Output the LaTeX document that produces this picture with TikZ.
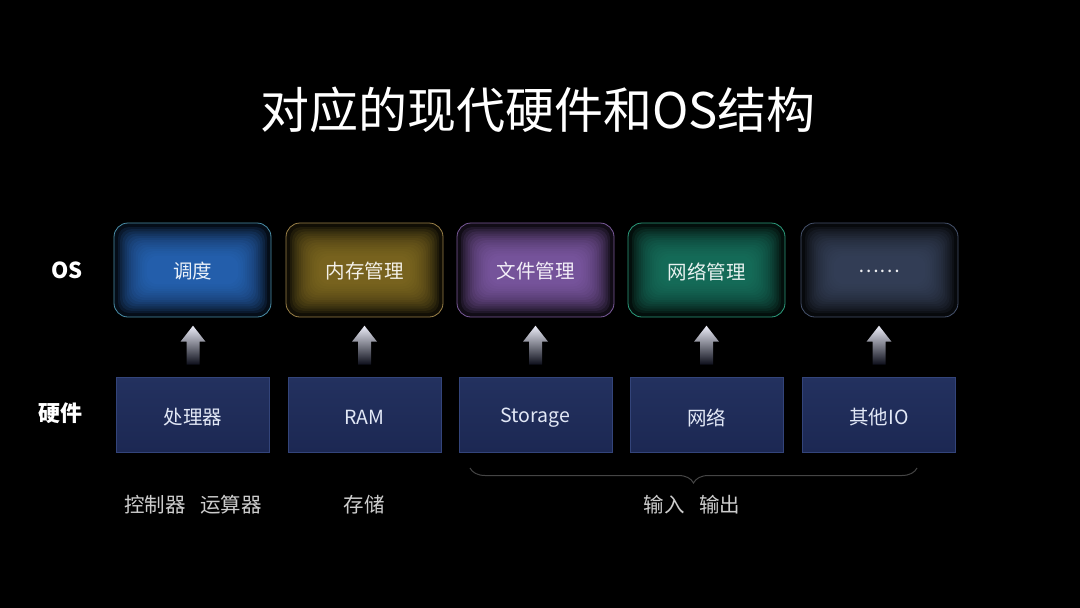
\documentclass[tikz,border=0pt]{standalone}
\usepackage{fontspec}
\setmainfont{Noto Sans CJK SC}
\usetikzlibrary{calc,decorations.pathreplacing}
\definecolor{gBlue}{HTML}{2C6FC8}
\definecolor{bBlue}{HTML}{4A8FA8}
\definecolor{gGold}{HTML}{8C7426}
\definecolor{bGold}{HTML}{9A8048}
\definecolor{gPurple}{HTML}{8A62B4}
\definecolor{bPurple}{HTML}{7A5A9A}
\definecolor{gGreen}{HTML}{1B7D68}
\definecolor{bGreen}{HTML}{2C9C7C}
\definecolor{gSlate}{HTML}{3E4A66}
\definecolor{bSlate}{HTML}{46526C}
\definecolor{hwTop}{HTML}{23315F}
\definecolor{hwBot}{HTML}{1C2853}
\definecolor{hwLine}{HTML}{33447A}
\definecolor{hwText}{HTML}{E2E8F6}
\definecolor{arrTop}{HTML}{ECEDF8}
\definecolor{arrMid}{HTML}{A9ADCA}
\definecolor{arrBot}{HTML}{0C0E1A}
\definecolor{noteGray}{HTML}{CDCDCD}
\definecolor{braceGray}{HTML}{454545}
\newcommand{\lowtext}[2]{\raisebox{-#1}[\height][\depth]{#2}}
\begin{document}
\begin{tikzpicture}[x=1pt,y=-1pt,
  osbox/.style 2 args={rounded corners=14pt, minimum width=157pt, minimum height=94pt,
    inner sep=0pt, draw=#2, line width=0.8pt, fill=#1!12!black,
    text=white!90!#1, font=\fontsize{19.5}{20}\selectfont,
    path picture={
      \foreach \i in {0,...,13}{
        \fill[#1, opacity=0.13, rounded corners=11pt]
          ($(path picture bounding box.north west)+({4pt+2.2pt*\i},{-4pt-2.2pt*\i})$)
          rectangle
          ($(path picture bounding box.south east)+({-4pt-2.2pt*\i},{4pt+2.2pt*\i})$);
      }
    }},
  hwbox/.style={minimum width=153pt, minimum height=75pt, inner sep=0pt,
    draw=hwLine, line width=0.6pt, top color=hwTop, bottom color=hwBot,
    text=hwText, font=\fontsize{19.5}{20}\selectfont},
  uparrow/.style={top color=arrTop, middle color=arrMid, bottom color=arrBot, draw=none},
  sidelabel/.style={text=white, font=\bfseries\fontsize{22}{22}\selectfont},
  note/.style={text=noteGray, font=\fontsize{20.5}{21}\selectfont},
  bracestyle/.style={draw=braceGray, line width=1pt,
    decorate, decoration={brace, mirror, amplitude=15pt}}
]
\fill[black] (0,0) rectangle (1080,608);
\useasboundingbox (0,0) rectangle (1080,608);

% title
\node[text=white, font=\fontsize{49}{49}\selectfont] (title) at (538,110) {对应的现代硬件和OS结构};

% side labels
\node[sidelabel] (oslbl) at (67,270) {OS};
\node[sidelabel] (hwlbl) at (60,413) {硬件};

% OS boxes
\node[osbox={gBlue}{bBlue}]     (os1) at (192.5,270) {\lowtext{1.5pt}{调度}};
\node[osbox={gGold}{bGold}]     (os2) at (364.5,270) {\lowtext{1.5pt}{内存管理}};
\node[osbox={gPurple}{bPurple}] (os3) at (535.5,270) {\lowtext{1.5pt}{文件管理}};
\node[osbox={gGreen}{bGreen}]   (os4) at (706.5,270) {\lowtext{1.5pt}{网络管理}};
\node[osbox={gSlate}{bSlate}]   (os5) at (879.5,270) {\lowtext{1.5pt}{……}};

% hardware boxes
\node[hwbox] (hw1) at (193,414.5) {\lowtext{3pt}{处理器}};
\node[hwbox] (hw2) at (364.5,414.5) {\lowtext{3pt}{RAM}};
\node[hwbox] (hw3) at (535.5,414.5) {\lowtext{3pt}{Storage}};
\node[hwbox] (hw4) at (706.5,414.5) {\lowtext{3pt}{网络}};
\node[hwbox] (hw5) at (879,414.5) {\lowtext{3pt}{其他IO}};

% block arrows from hardware up to OS
\foreach \k in {1,...,5}{
  \path[uparrow] ($(hw\k.north)+(-6.5,-12)$) -- ($(hw\k.north)+(-6.5,-35)$)
    -- ($(hw\k.north)+(-12.5,-35)$) -- ($(hw\k.north)+(0,-51)$)
    -- ($(hw\k.north)+(12.5,-35)$) -- ($(hw\k.north)+(6.5,-35)$)
    -- ($(hw\k.north)+(6.5,-12)$) -- cycle;
}

% brace under the IO boxes
\coordinate (bl) at (470,468);
\coordinate (br) at (917,468);
\draw[bracestyle] (bl) -- (br);

% notes
\node[note] (n1) at (193,505) {控制器\hspace{15pt}运算器};
\node[note] (n2) at (364,505) {存储};
\node[note] (n3) at (692,505) {输入\hspace{15pt}输出};
\end{tikzpicture}
\end{document}
